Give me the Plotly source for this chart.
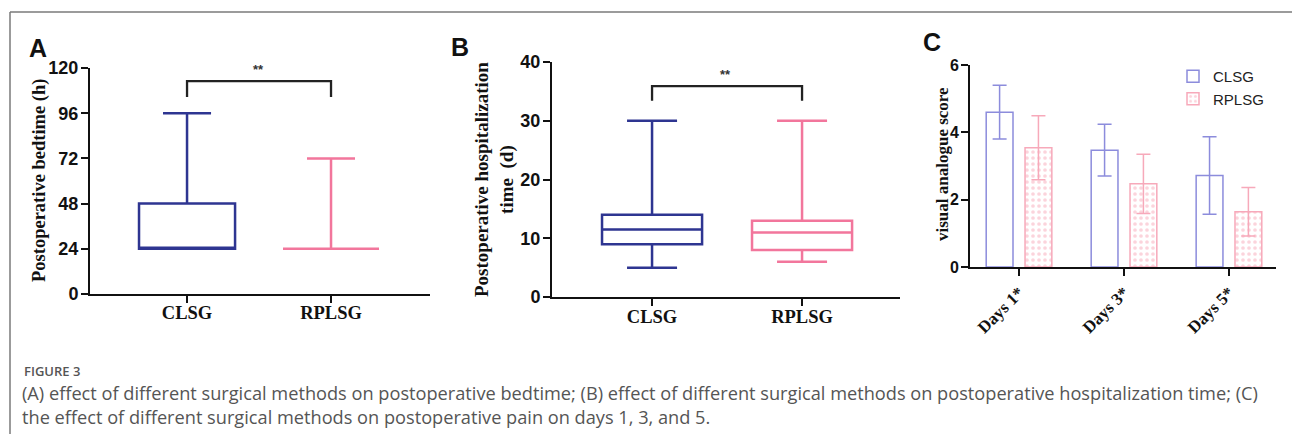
import plotly.graph_objects as go

W, H = 1292, 434

# ---- data ----
groups = ["CLSG", "RPLSG"]
# Panel A: postoperative bedtime (h) box summaries
a_q1 = [24, 24]
a_median = [24, 24]
a_q3 = [48, 24]
a_low = [24, 24]
a_high = [96, 72]
a_ticks = [0, 24, 48, 72, 96, 120]
# Panel B: postoperative hospitalization time (d)
b_q1 = [9, 8]
b_median = [11.5, 11]
b_q3 = [14, 13]
b_low = [5, 6]
b_high = [30, 30]
b_ticks = [0, 10, 20, 30, 40]
# Panel C: visual analogue score
days = ["Days 1*", "Days 3*", "Days 5*"]
c_clsg = [4.6, 3.47, 2.72]
c_clsg_err = [0.8, 0.77, 1.15]
c_rplsg = [3.54, 2.47, 1.64]
c_rplsg_err = [0.95, 0.88, 0.72]
c_ticks = [0, 2, 4, 6]

BLUE = "#2E3591"
PINK = "#F2769C"
C_BLUE = "#8C8CDC"
C_PINK = "#F7A9BA"

def px(x):
    return x / W

def py(y):
    return 1 - y / H

fig = go.Figure()

for i, (g, col) in enumerate(zip(groups, [BLUE, PINK])):
    fig.add_trace(go.Box(
        x=[i], q1=[a_q1[i]], median=[a_median[i]], q3=[a_q3[i]],
        lowerfence=[a_low[i]], upperfence=[a_high[i]],
        width=0.667, whiskerwidth=0.5, boxpoints=False,
        line=dict(color=col, width=2.5), fillcolor="rgba(0,0,0,0)",
        xaxis="x", yaxis="y", showlegend=False, name=g))
    fig.add_trace(go.Box(
        x=[i], q1=[b_q1[i]], median=[b_median[i]], q3=[b_q3[i]],
        lowerfence=[b_low[i]], upperfence=[b_high[i]],
        width=0.667, whiskerwidth=0.5, boxpoints=False,
        line=dict(color=col, width=2.5), fillcolor="rgba(0,0,0,0)",
        xaxis="x2", yaxis="y2", showlegend=False, name=g))

fig.add_trace(go.Bar(
    x=days, y=c_clsg, name="CLSG", xaxis="x3", yaxis="y3",
    marker=dict(color="white", line=dict(color=C_BLUE, width=1.5)),
    error_y=dict(type="data", array=c_clsg_err, color=C_BLUE, thickness=1.5, width=7)))
fig.add_trace(go.Bar(
    x=days, y=c_rplsg, name="RPLSG", xaxis="x3", yaxis="y3",
    marker=dict(color="white", line=dict(color=C_PINK, width=1.5),
                pattern=dict(shape=".", fgcolor=C_PINK, bgcolor="white", size=6, solidity=0.3)),
    error_y=dict(type="data", array=c_rplsg_err, color=C_PINK, thickness=1.5, width=7)))

tickfont = dict(family="Liberation Sans", size=18, color="#111", weight="bold")
catfont = dict(family="Liberation Serif", size=18.5, color="#111", weight="bold")
axcommon = dict(showline=True, linecolor="#111", linewidth=2, ticks="outside",
                tickcolor="#111", tickwidth=2, ticklen=7, showgrid=False, zeroline=False,
                automargin=False)

fig.update_layout(
    width=W, height=H, margin=dict(l=0, r=0, t=0, b=0, pad=0, autoexpand=False),
    paper_bgcolor="white", plot_bgcolor="white",
    barmode="group", bargap=0.26, bargroupgap=0.31,
    xaxis=dict(domain=[px(90), px(430)], range=[-0.674, 1.6875],
               tickvals=[0, 1], ticktext=groups, tickfont=catfont, anchor="y",
               ticklabelstandoff=-6, **axcommon),
    yaxis=dict(domain=[py(294), py(68)], range=[0, 120], tickvals=a_ticks,
               tickfont=tickfont, anchor="x", ticklabelstandoff=-1, **axcommon),
    xaxis2=dict(domain=[px(552), px(900)], range=[-0.667, 1.653],
                tickvals=[0, 1], ticktext=groups, tickfont=catfont, anchor="y2",
                ticklabelstandoff=-5, **axcommon),
    yaxis2=dict(domain=[py(297), py(62)], range=[0, 40], tickvals=b_ticks,
                tickfont=tickfont, anchor="x2", ticklabelstandoff=-1, **axcommon),
    xaxis3=dict(domain=[px(970), px(1276)], range=[-0.467, 2.448],
                tickfont=dict(family="Liberation Serif", size=17, color="#111", weight="bold"),
                tickangle=-45, anchor="y3", **axcommon),
    yaxis3=dict(domain=[py(267), py(65)], range=[0, 6], tickvals=c_ticks,
                tickfont=dict(family="Liberation Sans", size=16, color="#111", weight="bold"),
                anchor="x3", ticklabelstandoff=-1, **axcommon),
    legend=dict(x=px(1173), y=py(60), xanchor="left", yanchor="top",
                font=dict(family="Liberation Sans", size=15, color="#222"),
                bgcolor="rgba(0,0,0,0)", itemwidth=30, tracegroupgap=10),
    showlegend=True,
)

# brackets
fig.add_shape(type="path", xref="x", yref="y", path="M 0 104.6 L 0 113 L 1 113 L 1 104.6",
              line=dict(color="#222", width=2.3))
fig.add_shape(type="path", xref="x2", yref="y2", path="M 0 33.4 L 0 35.9 L 1 35.9 L 1 33.4",
              line=dict(color="#222", width=2.3))

# frame
fig.add_shape(type="line", xref="paper", yref="paper", x0=px(10), x1=1, y0=py(12), y1=py(12),
              line=dict(color="#7a7a7a", width=1.5))
fig.add_shape(type="line", xref="paper", yref="paper", x0=px(10), x1=px(10), y0=py(12), y1=0,
              line=dict(color="#7a7a7a", width=1.5))

ann = []
def A(x, y, text, xanchor="center", **kw):
    d = dict(x=px(x), y=py(y), xref="paper", yref="paper", text=text, showarrow=False,
             xanchor=xanchor, yanchor="middle")
    d.update(kw)
    ann.append(d)

letter = dict(family="Liberation Sans", size=25, color="#111", weight="bold")
A(38, 48, "A", font=letter)
A(460, 47, "B", font=letter)
A(932, 42, "C", font=letter)
A(258, 70, "**", font=dict(family="Liberation Sans", size=13, color="#333", weight="bold"))
A(725, 75, "**", font=dict(family="Liberation Sans", size=13, color="#333", weight="bold"))

A(39, 181, "Postoperative bedtime (h)", textangle=-90,
  font=dict(family="Liberation Serif", size=18.5, color="#111", weight="bold"))
A(494, 179, "Postoperative hospitalization<br>time  (d)", textangle=-90,
  font=dict(family="Liberation Serif", size=19, color="#111", weight="bold"))
A(943, 164, "visual analogue score", textangle=-90,
  font=dict(family="Liberation Serif", size=17, color="#111", weight="bold"))

A(22, 371, "FIGURE 3", xanchor="left",
  font=dict(family="Open Sans", size=13, color="#555", weight=600))
A(20, 405,
  "(A) effect of different surgical methods on postoperative bedtime; (B) effect of different surgical methods on postoperative hospitalization time; (C)"
  "<br>the effect of different surgical methods on postoperative pain on days 1, 3, and 5.",
  xanchor="left", align="left",
  font=dict(family="Open Sans", size=18.2, color="#555"))

fig.update_layout(annotations=ann)
fig.write_html("out.html", config={"displayModeBar": False},
               post_script="document.body.style.margin='0';document.body.style.padding='0';")
